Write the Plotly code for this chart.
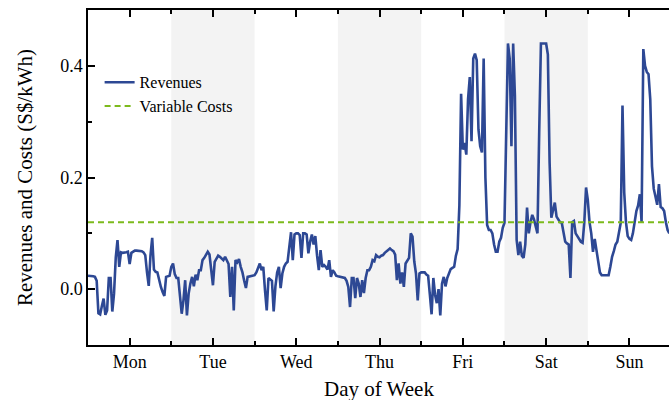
import numpy as np
import plotly.graph_objects as go

days = ["Mon", "Tue", "Wed", "Thu", "Fri", "Sat", "Sun"]
steps_per_day = 48  # half-hourly trading periods

rev_mon = [0.024, 0.024, 0.024, 0.023, 0.022, 0.015, -0.043, -0.045, -0.030, -0.017, -0.046, -0.038,
           0.020, 0.020, -0.040, -0.008, 0.057, 0.088, 0.040, 0.066, 0.065, 0.065, 0.066, 0.067,
           0.045, 0.065, 0.067, 0.069, 0.069, 0.069, 0.069, 0.068, 0.066, 0.061, 0.030, 0.006,
           0.060, 0.092, 0.035, 0.031, 0.030, 0.016, 0.004, -0.005, -0.012, 0.022, 0.023, 0.024]
rev_tue = [0.040, 0.046, 0.027, 0.020, 0.020, -0.020, -0.044, -0.020, 0.016, -0.047, -0.008, 0.010,
           0.022, 0.005, 0.026, 0.016, 0.034, 0.034, 0.052, 0.056, 0.061, 0.067, 0.062, 0.030,
           0.007, 0.049, 0.056, 0.060, 0.058, 0.055, 0.052, 0.058, 0.050, 0.045, -0.014, 0.040,
           -0.038, 0.052, 0.048, 0.054, 0.040, 0.030, 0.015, 0.002, 0.022, 0.023, 0.024, 0.024]
rev_wed = [0.025, 0.030, 0.038, 0.046, 0.034, 0.040, -0.002, -0.038, 0.020, 0.018, 0.015, -0.040,
           0.005, 0.030, 0.040, 0.002, 0.028, 0.040, 0.046, 0.049, 0.080, 0.102, 0.052, 0.098,
           0.100, 0.100, 0.097, 0.056, 0.100, 0.100, 0.098, 0.064, 0.085, 0.098, 0.080, 0.095,
           0.060, 0.034, 0.070, 0.040, 0.043, 0.040, 0.035, 0.052, 0.022, 0.034, 0.030, 0.024]
rev_thu = [0.023, 0.022, 0.021, 0.020, 0.020, 0.015, 0.004, -0.032, 0.020, 0.020, -0.016, 0.020,
           0.010, -0.014, 0.016, -0.007, 0.020, 0.034, 0.034, 0.040, 0.052, 0.050, 0.061, 0.058,
           0.057, 0.060, 0.061, 0.065, 0.068, 0.071, 0.073, 0.070, 0.068, 0.062, 0.016, 0.046,
           0.010, 0.030, 0.004, 0.046, 0.050, 0.056, 0.100, 0.094, 0.050, 0.028, -0.020, 0.028]
rev_fri = [0.030, 0.030, 0.030, 0.026, 0.024, -0.010, -0.045, 0.020, -0.010, -0.025, 0.000, -0.047,
           0.010, 0.022, 0.005, 0.020, 0.029, 0.036, 0.038, 0.040, 0.060, 0.072, 0.150, 0.350,
           0.250, 0.262, 0.241, 0.340, 0.380, 0.265, 0.413, 0.422, 0.410, 0.286, 0.256, 0.245,
           0.413, 0.200, 0.115, 0.106, 0.106, 0.100, 0.080, 0.067, 0.067, 0.085, 0.092, 0.110]
rev_sat = [0.119, 0.300, 0.440, 0.413, 0.256, 0.440, 0.347, 0.088, 0.061, 0.085, 0.060, 0.056,
           0.080, 0.146, 0.100, 0.120, 0.133, 0.125, 0.110, 0.100, 0.280, 0.440, 0.440, 0.440,
           0.440, 0.420, 0.227, 0.128, 0.140, 0.155, 0.130, 0.125, 0.120, 0.119, 0.100, 0.085,
           0.082, 0.080, 0.020, 0.120, 0.122, 0.100, 0.095, 0.090, 0.085, 0.083, 0.120, 0.182]
rev_sun = [0.160, 0.120, 0.100, 0.067, 0.090, 0.070, 0.047, 0.030, 0.025, 0.025, 0.025, 0.024,
           0.025, 0.040, 0.058, 0.068, 0.080, 0.085, 0.100, 0.119, 0.329, 0.173, 0.120, 0.095,
           0.090, 0.088, 0.100, 0.120, 0.140, 0.150, 0.170, 0.120, 0.430, 0.400, 0.389, 0.385,
           0.340, 0.220, 0.180, 0.166, 0.151, 0.188, 0.147, 0.145, 0.140, 0.120, 0.106, 0.100]

variable_cost = 0.12
y_ticks = [0.0, 0.2, 0.4]
y_minor = [-0.1, 0.1, 0.3, 0.5]
x_title = "Day of Week"
y_title = "Revenues and Costs (S$/kWh)"

revenues = rev_mon + rev_tue + rev_wed + rev_thu + rev_fri + rev_sat + rev_sun
hours = np.arange(len(revenues)) * 24.0 / steps_per_day
day_centers = [24 * i + 12 for i in range(len(days))]
day_bounds = [24 * i for i in range(len(days) + 1)]

BLUE = "#2d4894"
GREEN = "#7cba1c"
FONT = "Liberation Serif"

fig = go.Figure()

# shaded alternate days
shapes = []
for i in range(1, len(days), 2):
    shapes.append(dict(type="rect", xref="x", yref="paper", x0=day_bounds[i], x1=day_bounds[i + 1],
                       y0=0, y1=1, fillcolor="#f3f3f3", line=dict(width=0), layer="below"))

fig.add_trace(go.Scatter(x=hours, y=revenues, mode="lines", name="Revenues",
                         line=dict(color=BLUE, width=2.6)))
fig.add_trace(go.Scatter(x=[0, 24 * len(days)], y=[variable_cost, variable_cost], mode="lines",
                         name="Variable Costs", line=dict(color=GREEN, width=2, dash="6px,4px")))

fig.update_layout(
    width=669, height=400,
    margin=dict(l=88, r=0, t=10, b=55),
    paper_bgcolor="white", plot_bgcolor="white",
    font=dict(family=FONT, color="black", size=18),
    shapes=shapes,
    showlegend=True,
    legend=dict(x=0.02, y=0.835, xanchor="left", yanchor="top", bgcolor="rgba(0,0,0,0)",
                font=dict(size=16, family=FONT), tracegroupgap=0),
    annotations=[dict(text=x_title, xref="paper", yref="paper", x=0.5, y=0,
                      yshift=-44, xanchor="center", yanchor="middle", showarrow=False,
                      font=dict(size=21, family=FONT, color="black"))],
    xaxis=dict(range=[0, 167.4], tickmode="array", tickvals=day_centers, ticktext=days,
               ticks="inside", ticklen=7, tickwidth=1.5, tickcolor="black", automargin=False,
               showline=True, linecolor="black", linewidth=1.5, mirror="ticks",
               showgrid=False, zeroline=False, tickfont=dict(size=18, family=FONT),
               minor=dict(tickmode="array", tickvals=day_bounds, ticks="inside", ticklen=4,
                          tickwidth=1.5, tickcolor="black", showgrid=False)),
    yaxis=dict(range=[-0.1, 0.5], tickmode="array", tickvals=y_ticks, tickformat=".1f",
               ticks="inside", ticklen=7, tickwidth=1.5, tickcolor="black", automargin=False,
               showline=True, linecolor="black", linewidth=1.5, mirror=False,
               showgrid=False, zeroline=False, tickfont=dict(size=18, family=FONT),
               minor=dict(tickmode="array", tickvals=y_minor, ticks="inside", ticklen=4,
                          tickwidth=1.5, tickcolor="black", showgrid=False),
               title=dict(text=y_title, font=dict(size=21, family=FONT), standoff=22)),
    yaxis2=dict(overlaying="y", side="right", anchor="x", range=[-0.1, 0.5], tickmode="array",
                tickvals=y_ticks, ticks="inside", ticklen=7, tickwidth=1.5, tickcolor="black",
                showticklabels=False, showline=False, showgrid=False, zeroline=False,
                automargin=False,
                minor=dict(tickmode="array", tickvals=y_minor, ticks="inside", ticklen=4,
                           tickwidth=1.5, tickcolor="black", showgrid=False)),
)

fig.write_html("out.html")
